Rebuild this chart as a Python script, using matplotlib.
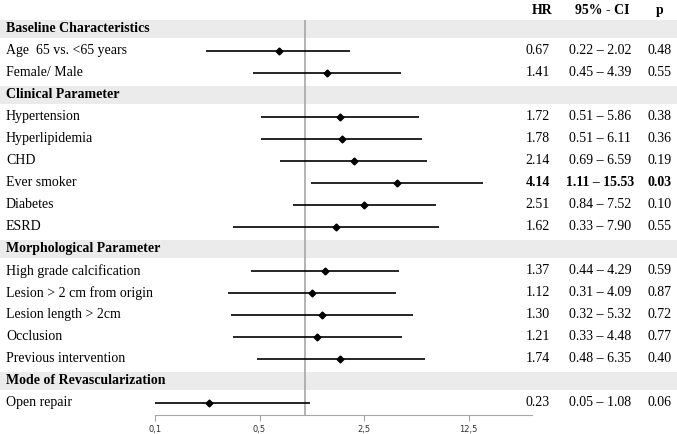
import matplotlib
matplotlib.use("Agg")
import matplotlib.pyplot as plt
import numpy as np

# rows: section headers (None values) and variables
labels = ["Baseline Characteristics", "Age  65 vs. <65 years", "Female/ Male",
          "Clinical Parameter", "Hypertension", "Hyperlipidemia", "CHD", "Ever smoker",
          "Diabetes", "ESRD",
          "Morphological Parameter", "High grade calcification", "Lesion > 2 cm from origin",
          "Lesion length > 2cm", "Occlusion", "Previous intervention",
          "Mode of Revascularization", "Open repair"]
is_header = [True, False, False, True, False, False, False, False, False, False,
             True, False, False, False, False, False, True, False]
hr = [None, 0.67, 1.41, None, 1.72, 1.78, 2.14, 4.14, 2.51, 1.62,
      None, 1.37, 1.12, 1.30, 1.21, 1.74, None, 0.23]
ci_lo = [None, 0.22, 0.45, None, 0.51, 0.51, 0.69, 1.11, 0.84, 0.33,
         None, 0.44, 0.31, 0.32, 0.33, 0.48, None, 0.05]
ci_hi = [None, 2.02, 4.39, None, 5.86, 6.11, 6.59, 15.53, 7.52, 7.90,
         None, 4.29, 4.09, 5.32, 4.48, 6.35, None, 1.08]
pval = [None, 0.48, 0.55, None, 0.38, 0.36, 0.19, 0.03, 0.10, 0.55,
        None, 0.59, 0.87, 0.72, 0.77, 0.40, None, 0.06]
bold_rows = ["Ever smoker"]
tick_vals = [0.1, 0.5, 2.5, 12.5]
tick_labels = ["0,1", "0,5", "2,5", "12,5"]

W, H = 677, 434
row0, dy = 29, 22  # pixel centre of first row and row step

def row_of(px):
    return (px - row0) / dy

plt.rcParams['font.family'] = ['Liberation Serif', 'DejaVu Serif']
fig = plt.figure(figsize=(W / 100, H / 100), dpi=100)

# background axes for bands and text
bg = fig.add_axes([0, 0, 1, 1])
bg.set_xlim(0, W)
bg.set_ylim(row_of(H), row_of(0))
bg.axis("off")

fs = 10
for i, lab in enumerate(labels):
    if is_header[i]:
        bg.axhspan(i - 0.41, i + 0.41, color="#ebebeb", lw=0, zorder=0)
        bg.text(6, i, lab, fontsize=fs, fontweight="bold", va="center", ha="left")
    else:
        bg.text(6, i, lab, fontsize=fs, va="center", ha="left")
        w = "bold" if lab in bold_rows else "normal"
        bg.text(538, i, f"{hr[i]:.2f}", fontsize=fs, va="center", ha="center", fontweight=w)
        bg.text(600, i, f"{ci_lo[i]:.2f} \u2013 {ci_hi[i]:.2f}", fontsize=fs,
                va="center", ha="center", fontweight=w)
        bg.text(660, i, f"{pval[i]:.2f}", fontsize=fs, va="center", ha="center", fontweight=w)

hy = row_of(11)
bg.text(542, hy, "HR", fontsize=fs, fontweight="bold", va="center", ha="center")
bg.text(602, hy, "95% - CI", fontsize=fs, fontweight="bold", va="center", ha="center")
bg.text(660, hy, "p", fontsize=fs, fontweight="bold", va="center", ha="center")

# forest axes
x0, x1, ytop, ybot = 155, 532, 20, 415
ax = fig.add_axes([x0 / W, 1 - ybot / H, (x1 - x0) / W, (ybot - ytop) / H])
ax.patch.set_alpha(0)
ax.set_xscale("log")
ax.set_xlim(0.1, 0.1 * 5 ** ((x1 - x0) / 104.5))
ax.set_ylim(row_of(ybot), row_of(ytop))
for s in ["top", "right", "left"]:
    ax.spines[s].set_visible(False)
ax.spines["bottom"].set_color("#a6a6a6")
ax.axvline(1, color="#a6a6a6", lw=1.2, zorder=1)

rows = [i for i in range(len(labels)) if not is_header[i]]
ax.hlines(rows, [ci_lo[i] for i in rows], [ci_hi[i] for i in rows], color="black", lw=1.2, zorder=2)
ax.plot([hr[i] for i in rows], rows, "D", color="black", ms=3.5, zorder=3)

ax.set_yticks([])
ax.set_xticks(tick_vals)
ax.set_xticklabels(tick_labels, family="DejaVu Sans", fontsize=6, color="#333333")
ax.minorticks_off()
ax.tick_params(axis="x", length=4, color="#a6a6a6", pad=3)

fig.savefig("out.png", dpi=100)
